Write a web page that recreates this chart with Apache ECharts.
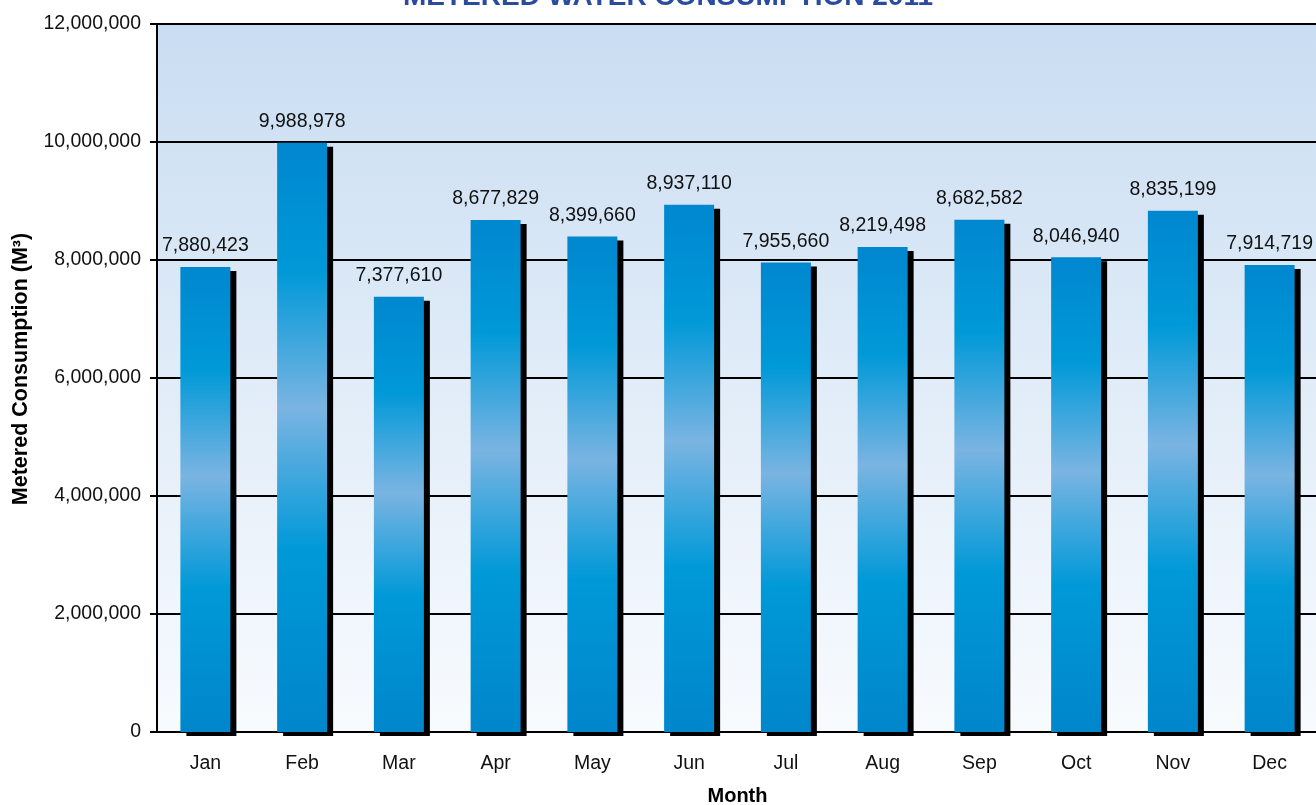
<!doctype html>
<html lang="en">
<head>
    <meta charset="UTF-8">
    <title>Metered Water Consumption 2011</title>
    <style>
        html, body { margin: 0; padding: 0; background: #fff; }
    </style>
</head>
<body>
    <script src="https://cdn.jsdelivr.net/npm/echarts@6/dist/echarts.min.js"></script>
    <div id="bar" style="width: 1316px; height: 805px"></div>

    <script>
        // data
        var months = ['Jan', 'Feb', 'Mar', 'Apr', 'May', 'Jun', 'Jul', 'Aug', 'Sep', 'Oct', 'Nov', 'Dec'];
        var consumption = [7880423, 9988978, 7377610, 8677829, 8399660, 8937110, 7955660, 8219498, 8682582, 8046940, 8835199, 7914719];
        var yTicks = [0, 2000000, 4000000, 6000000, 8000000, 10000000, 12000000];

        var font = 'Liberation Sans, Arial, sans-serif';
        var fmt = function (v) { return Number(v).toLocaleString('en-US'); };

        var barColor = {
            type: 'linear', x: 0, y: 0, x2: 0, y2: 1,
            colorStops: [
                { offset: 0, color: '#0087cf' },
                { offset: 0.22, color: '#0099d8' },
                { offset: 0.45, color: '#7ab4e2' },
                { offset: 0.69, color: '#0099d8' },
                { offset: 1, color: '#0086cb' }
            ]
        };

        var option = {
            animation: false,
            textStyle: { fontFamily: font },
            title: {
                text: 'METERED WATER CONSUMPTION 2011',
                left: 663,
                textAlign: 'center',
                top: -22,
                textStyle: { color: '#2b4ba0', fontSize: 28, fontWeight: 'bold', fontFamily: font }
            },
            grid: {
                left: 157,
                top: 24,
                width: 1161,
                height: 708,
                outerBoundsMode: 'none',
                containLabel: false,
                show: true,
                borderWidth: 0,
                backgroundColor: {
                    type: 'linear', x: 0, y: 0, x2: 0, y2: 1,
                    colorStops: [
                        { offset: 0, color: '#c9ddf2' },
                        { offset: 1, color: '#f8fbfe' }
                    ]
                }
            },
            xAxis: {
                type: 'category',
                data: months,
                name: 'Month',
                nameLocation: 'middle',
                nameGap: 54,
                nameTextStyle: { fontSize: 20, fontWeight: 'bold', color: '#000', fontFamily: font },
                axisLine: { lineStyle: { color: '#000', width: 2 } },
                axisTick: { alignWithLabel: false, length: 7, lineStyle: { color: '#000', width: 2 } },
                axisLabel: { fontSize: 19.5, color: '#111', margin: 22, fontFamily: font }
            },
            yAxis: {
                type: 'value',
                min: yTicks[0],
                max: yTicks[yTicks.length - 1],
                interval: yTicks[1] - yTicks[0],
                name: 'Metered Consumption (M³)',
                nameLocation: 'middle',
                nameGap: 125,
                nameTextStyle: { fontSize: 21.5, fontWeight: 'bold', color: '#000', fontFamily: font, padding: [0, 0, 0, 18] },
                axisLine: { show: true, lineStyle: { color: '#000', width: 2 } },
                axisTick: { show: true, length: 7, lineStyle: { color: '#000', width: 2 } },
                axisLabel: { fontSize: 19.5, color: '#111', margin: 16, fontFamily: font, formatter: fmt },
                splitLine: { show: true, lineStyle: { color: '#000', width: 2 } }
            },
            series: [
                {
                    type: 'bar',
                    data: consumption,
                    barWidth: 50,
                    itemStyle: {
                        color: barColor,
                        shadowColor: '#000',
                        shadowBlur: 0,
                        shadowOffsetX: 6,
                        shadowOffsetY: 4
                    },
                    label: {
                        show: true,
                        position: 'top',
                        distance: 11,
                        fontSize: 19.5,
                        color: '#111',
                        fontFamily: font,
                        formatter: function (p) { return fmt(p.value); }
                    }
                }
            ]
        };

        var barChart = echarts.init(document.getElementById('bar'));
        barChart.setOption(option);
    </script>
</body>
</html>
